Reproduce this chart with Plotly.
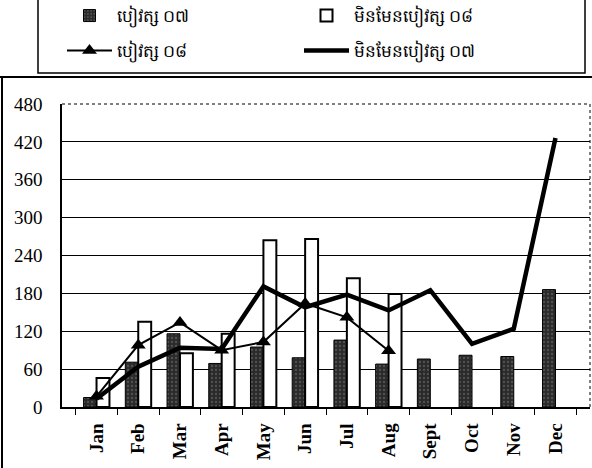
import plotly.graph_objects as go

months = ["Jan", "Feb", "Mar", "Apr", "May", "Jun", "Jul", "Aug", "Sept", "Oct", "Nov", "Dec"]
salary07 = [15, 71, 116, 69, 95, 78, 106, 68, 76, 82, 80, 186]
nonsalary08 = [46, 135, 85, 116, 264, 266, 204, 179, None, None, None, None]
salary08 = [17, 98, 134, 90, 103, 164, 142, 89, None, None, None, None]
nonsalary07 = [13, 64, 94, 92, 191, 158, 178, 153, 185, 100, 124, 426]

names = ["បៀវត្ស ០៧", "មិនមែនបៀវត្ស ០៨", "បៀវត្ស ០៨", "មិនមែនបៀវត្ស ០៧"]
yticks = [0, 60, 120, 180, 240, 300, 360, 420, 480]

W, H = 592, 468
L, R, T, B = 62, 2, 104, 61
pw, ph = W - L - R, H - T - B

def px(x):
    return (x - L) / pw

def py(y):
    return (H - B - y) / ph

fig = go.Figure()
fig.add_trace(go.Bar(x=months, y=salary07, name=names[0], legend="legend",
                     marker=dict(color="#2a2a2a", line=dict(color="black", width=1),
                                 pattern=dict(shape=".", fgcolor="#7a7a7a", size=4, solidity=0.25))))
fig.add_trace(go.Bar(x=months, y=nonsalary08, name=names[1], legend="legend",
                     marker=dict(color="white", line=dict(color="black", width=2))))
fig.add_trace(go.Scatter(x=months, y=salary08, name=names[2], mode="lines+markers", legend="legend2",
                         line=dict(color="black", width=2),
                         marker=dict(symbol="triangle-up", size=13, color="black")))
fig.add_trace(go.Scatter(x=months, y=nonsalary07, name=names[3], mode="lines", legend="legend2",
                         line=dict(color="black", width=4.5)))

leg_common = dict(orientation="h", xanchor="left", yanchor="middle",
                  entrywidth=177, entrywidthmode="pixels", itemwidth=45,
                  borderwidth=0, bgcolor="rgba(0,0,0,0)",
                  font=dict(size=17), traceorder="normal")

fig.update_layout(
    width=W, height=H,
    margin=dict(l=L, r=R, t=T, b=B, autoexpand=False),
    paper_bgcolor="white", plot_bgcolor="white",
    barmode="group", bargap=0.38, bargroupgap=0.0,
    font=dict(family="Liberation Serif", color="black", size=17),
    legend=dict(x=px(62), y=py(16), **leg_common),
    legend2=dict(x=px(62), y=py(51), **leg_common),
    showlegend=True,
)
fig.update_yaxes(range=[0, 480], tickvals=yticks, showgrid=True, gridcolor="black", gridwidth=1,
                 showline=True, linecolor="black", linewidth=1.5, ticks="", zeroline=False,
                 automargin=False, ticklabelstandoff=14, tickfont=dict(size=19))
fig.update_xaxes(tickangle=-90, tickson="boundaries", ticks="outside", ticklen=6, tickcolor="black",
                 showline=True, linecolor="black", linewidth=1.5, ticklabelstandoff=7, automargin=False,
                 tickfont=dict(size=19, family="Liberation Serif", weight="bold"))

# legend box
fig.add_shape(type="rect", xref="paper", yref="paper", x0=px(38), x1=px(585), y0=py(73), y1=py(-5),
              line=dict(color="black", width=1.5), layer="below")
# plot-area frame (dotted top/right) and outer scan frame
fig.add_shape(type="line", xref="paper", yref="paper", x0=0, x1=1, y0=1, y1=1,
              line=dict(color="black", width=1, dash="dot"))
fig.add_shape(type="line", xref="paper", yref="paper", x0=1, x1=1, y0=0, y1=1,
              line=dict(color="black", width=1, dash="dot"))
fig.add_shape(type="line", xref="paper", yref="paper", x0=px(0), x1=px(592), y0=py(77), y1=py(77),
              line=dict(color="black", width=2))
fig.add_shape(type="line", xref="paper", yref="paper", x0=px(2), x1=px(2), y0=py(77), y1=py(470),
              line=dict(color="black", width=2))

fig.write_html("out.html", config={"displayModeBar": False},
               post_script="document.body.style.margin='0';")
